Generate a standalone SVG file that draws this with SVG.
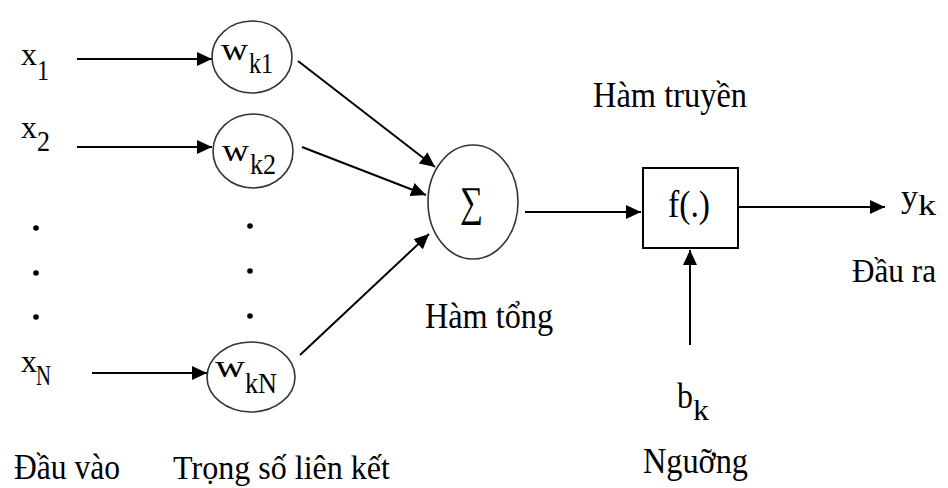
<svg xmlns="http://www.w3.org/2000/svg" width="948" height="488" viewBox="0 0 948 488">
  <style>
    .lbl { font-family: "Liberation Serif", "Times New Roman", serif; fill: #000; }
    .big { font-size: 36px; }
    .sym { font-size: 32px; }
    .sub { font-size: 30px; }
    .node { fill: #fff; stroke: #333; stroke-width: 1.6; }
    .wire { stroke: #000; stroke-width: 2; fill: none; marker-end: url(#head); }
    .dot { fill: #000; }
  </style>
  <defs>
    <marker id="head" markerUnits="userSpaceOnUse" markerWidth="16" markerHeight="14" refX="15" refY="7" orient="auto">
      <path d="M0,0 L15,7 L0,14 z" fill="#000"/>
    </marker>
  </defs>
  <rect width="948" height="488" fill="#fff"/>

  <!-- connectors -->
  <g id="connectors">
    <line class="wire" x1="77" y1="59" x2="212" y2="59"/>
    <line class="wire" x1="77" y1="147" x2="212" y2="147"/>
    <line class="wire" x1="92" y1="373" x2="207" y2="373"/>
    <line class="wire" x1="298" y1="61" x2="435" y2="167"/>
    <line class="wire" x1="302" y1="147" x2="426" y2="195"/>
    <line class="wire" x1="300" y1="355" x2="429" y2="234"/>
    <line class="wire" x1="525" y1="212" x2="641" y2="212"/>
    <line class="wire" x1="738" y1="207" x2="885" y2="207"/>
    <line class="wire" x1="690" y1="345" x2="690" y2="250"/>
  </g>

  <!-- inputs -->
  <g id="input-x1">
    <text class="lbl sym" x="21" y="65" textLength="16" lengthAdjust="spacingAndGlyphs">x</text>
    <text class="lbl sub" x="37" y="80" textLength="12" lengthAdjust="spacingAndGlyphs">1</text>
  </g>
  <g id="input-x2">
    <text class="lbl sym" x="21" y="138" textLength="16" lengthAdjust="spacingAndGlyphs">x</text>
    <text class="lbl sub" x="37" y="151" textLength="13" lengthAdjust="spacingAndGlyphs">2</text>
  </g>
  <g id="input-dots">
    <circle class="dot" cx="36" cy="228" r="2.8"/>
    <circle class="dot" cx="36" cy="273" r="2.8"/>
    <circle class="dot" cx="36" cy="317" r="2.8"/>
  </g>
  <g id="input-xN">
    <text class="lbl sym" x="21" y="372" textLength="16" lengthAdjust="spacingAndGlyphs">x</text>
    <text class="lbl sub" x="36" y="385" textLength="15" lengthAdjust="spacingAndGlyphs">N</text>
  </g>

  <!-- weights -->
  <g id="weight-wk1">
    <ellipse class="node" cx="252" cy="57" rx="40" ry="36"/>
    <text class="lbl sym" x="221" y="60" textLength="27" lengthAdjust="spacingAndGlyphs">w</text>
    <text class="lbl sub" x="249" y="73" textLength="24" lengthAdjust="spacingAndGlyphs">k1</text>
  </g>
  <g id="weight-wk2">
    <ellipse class="node" cx="253" cy="151" rx="40" ry="37"/>
    <text class="lbl sym" x="222" y="161" textLength="27" lengthAdjust="spacingAndGlyphs">w</text>
    <text class="lbl sub" x="250" y="174" textLength="26" lengthAdjust="spacingAndGlyphs">k2</text>
  </g>
  <g id="weight-dots">
    <circle class="dot" cx="250" cy="226" r="2.8"/>
    <circle class="dot" cx="250" cy="271" r="2.8"/>
    <circle class="dot" cx="250" cy="316" r="2.8"/>
  </g>
  <g id="weight-wkN">
    <ellipse class="node" cx="251" cy="377" rx="44" ry="35"/>
    <text class="lbl sym" x="215" y="377" textLength="30" lengthAdjust="spacingAndGlyphs">w</text>
    <text class="lbl sub" x="245" y="393" textLength="32" lengthAdjust="spacingAndGlyphs">kN</text>
  </g>

  <!-- summing junction -->
  <g id="sum">
    <ellipse class="node" cx="473" cy="202" rx="45" ry="57"/>
    <text class="lbl" x="460" y="216" font-size="42" textLength="23" lengthAdjust="spacingAndGlyphs">∑</text>
  </g>

  <!-- transfer function -->
  <g id="transfer">
    <rect x="643" y="168" width="95" height="80" fill="#fff" stroke="#000" stroke-width="2"/>
    <text class="lbl" x="668" y="217" font-size="38" textLength="42" lengthAdjust="spacingAndGlyphs">f(.)</text>
  </g>

  <!-- output -->
  <g id="output-yk">
    <text class="lbl sym" x="901" y="207" textLength="17" lengthAdjust="spacingAndGlyphs">y</text>
    <text class="lbl sub" x="918" y="215" textLength="18" lengthAdjust="spacingAndGlyphs">k</text>
  </g>

  <!-- bias -->
  <g id="bias-bk">
    <text class="lbl big" x="677" y="408" textLength="16" lengthAdjust="spacingAndGlyphs">b</text>
    <text class="lbl sub" x="693" y="420" textLength="16" lengthAdjust="spacingAndGlyphs">k</text>
  </g>

  <!-- captions -->
  <g id="captions">
    <text class="lbl big" x="14" y="479" textLength="106" lengthAdjust="spacingAndGlyphs">Đầu vào</text>
    <text class="lbl" x="173" y="479" font-size="34" textLength="217" lengthAdjust="spacingAndGlyphs">Trọng số liên kết</text>
    <text class="lbl big" x="425" y="328" textLength="128" lengthAdjust="spacingAndGlyphs">Hàm tổng</text>
    <text class="lbl big" x="593" y="107" textLength="154" lengthAdjust="spacingAndGlyphs">Hàm truyền</text>
    <text class="lbl" x="852" y="282" font-size="34" textLength="84" lengthAdjust="spacingAndGlyphs">Đầu ra</text>
    <text class="lbl big" x="643" y="473" textLength="105" lengthAdjust="spacingAndGlyphs">Nguỡng</text>
  </g>
</svg>
